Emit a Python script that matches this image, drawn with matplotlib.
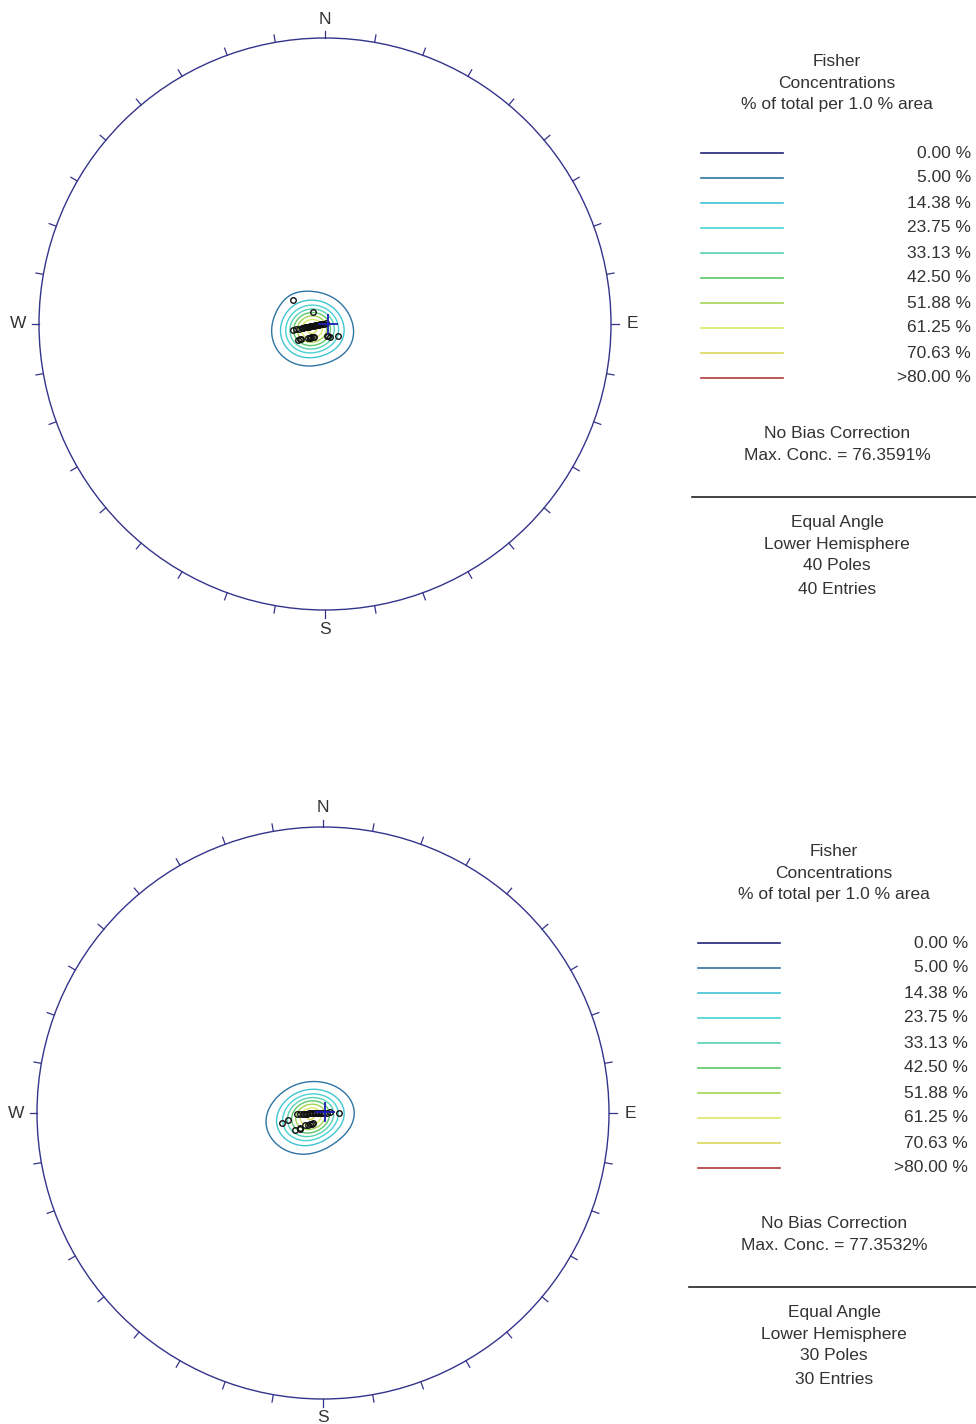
import numpy as np
import matplotlib

matplotlib.use("Agg")
import matplotlib.pyplot as plt
from matplotlib.patches import Circle

plt.rcParams["font.family"] = ["Liberation Sans", "DejaVu Sans"]

W, H = 976, 1424

# contour legend
levels = [0.00, 5.00, 14.38, 23.75, 33.13, 42.50, 51.88, 61.25, 70.63, 80.00]
level_labels = ["0.00 %", "5.00 %", "14.38 %", "23.75 %", "33.13 %", "42.50 %",
                "51.88 %", "61.25 %", "70.63 %", ">80.00 %"]
level_colors = ["#23237a", "#2f74a3", "#3fc4d2", "#48d2d2", "#55d2b4", "#5cc868",
                "#a2d452", "#dbe867", "#d9d95a", "#b23a3a"]

# poles, upper net (trend, plunge in degrees)
top_trend = [306.9, 315.0, 259.4, 259.3, 259.1, 260.1, 260.1, 260.0, 261.9, 262.2,
             262.9, 264.3, 270.0, 63.0, 239.3, 238.3, 230.5, 225.4, 220.2, 170.5,
             158.5, 131.5, 260.4, 260.8, 261.3, 262.0, 263.5, 265.7, 261.7, 261.5,
             262.4, 260.3, 228.3, 223.2, 226.0, 164.1, 238.5, 281.0, 264.3, 260.5]
top_plunge = [74.1, 83.2, 77.0, 78.2, 79.4, 80.7, 81.9, 83.1, 84.35, 85.55,
              86.8, 88.0, 89.2, 89.55, 77.4, 78.9, 81.2, 82.4, 83.2, 85.1,
              84.5, 83.0, 82.3, 83.5, 84.7, 85.95, 87.2, 88.4, 83.9, 85.15,
              86.4, 81.0, 81.7, 82.7, 81.9, 84.9, 78.3, 89.6, 87.6, 82.7]
top_mean = (90.0, 88.8)
top_max = "76.3591%"
top_count = 40

# poles, lower net
bot_trend = [256.8, 258.7, 91.0, 267.1, 267.3, 267.1, 267.6, 268.0, 267.9, 268.6,
             270.0, 273.0, 73.0, 83.0, 84.3, 238.7, 234.7, 236.3, 229.8, 223.3,
             268.0, 268.3, 269.0, 270.0, 267.7, 267.6, 226.5, 232.5, 280.0, 236.0]
bot_plunge = [73.1, 75.8, 83.5, 79.6, 80.8, 82.0, 83.2, 84.4, 85.6, 86.8,
              88.0, 89.2, 89.6, 88.4, 87.2, 76.9, 78.7, 81.35, 83.2, 84.35,
              84.8, 86.0, 87.2, 88.4, 83.6, 82.4, 83.8, 82.4, 89.6, 79.1]
bot_mean = (57.0, 89.0)
bot_max = "77.3532%"
bot_count = 30

K_FISHER = 100.0


def project(trend, plunge):
    t = np.radians(np.asarray(trend, dtype=float))
    p = np.radians(np.asarray(plunge, dtype=float))
    r = np.tan((np.pi / 2 - p) / 2)
    return r * np.sin(t), r * np.cos(t)


def to_vec(trend, plunge):
    t = np.radians(np.asarray(trend, dtype=float))
    p = np.radians(np.asarray(plunge, dtype=float))
    return np.stack([np.cos(p) * np.cos(t), np.cos(p) * np.sin(t), np.sin(p)], axis=-1)


def fisher_density(trend, plunge, X, Y, k):
    rho = np.hypot(X, Y)
    plunge_g = 90.0 - np.degrees(2 * np.arctan(rho))
    trend_g = np.degrees(np.arctan2(X, Y))
    g = to_vec(trend_g, plunge_g)
    v = to_vec(trend, plunge)
    c = np.abs(g @ v.T)
    n = len(trend)
    return (k / n * np.exp(k * (c - 1.0))).sum(axis=-1)


def draw_net(fig, center_px, trend, plunge, mean):
    cx, cy = center_px
    R = 286.0
    lim = 1.1
    half = lim * R
    ax = fig.add_axes([(cx - half) / W, (H - cy - half) / H, 2 * half / W, 2 * half / H])
    ax.set_xlim(-lim, lim)
    ax.set_ylim(-lim, lim)
    ax.set_aspect("equal")
    ax.axis("off")

    net_color = "#34348c"
    ax.add_patch(Circle((0, 0), 1.0, fill=False, ec=net_color, lw=1.0))
    tick = 7.5 / R
    for az in range(0, 360, 10):
        a = np.radians(az)
        ax.plot([np.sin(a), (1 + tick) * np.sin(a)], [np.cos(a), (1 + tick) * np.cos(a)],
                color=net_color, lw=0.9)
    for lab, az, off in [("N", 0, 19), ("E", 90, 21), ("S", 180, 19), ("W", 270, 21)]:
        a = np.radians(az)
        d = 1 + off / R
        ax.text(d * np.sin(a), d * np.cos(a), lab, ha="center", va="center",
                fontsize=12.5, color="#333333")

    g = np.linspace(-0.35, 0.35, 351)
    X, Y = np.meshgrid(g, g)
    D = fisher_density(trend, plunge, X, Y, K_FISHER)
    # the 0.00 % level has no closed line around the cluster
    ax.contour(X, Y, D, levels=levels[1:], colors=level_colors[1:], linewidths=1.0)

    px, py = project(trend, plunge)
    ax.plot(px, py, "o", ms=4.0, mfc="none", mec="#111111", mew=1.0, zorder=4)
    mx, my = project(*mean)
    ax.plot(mx, my, "+", ms=15, mec="#1c1cb4", mew=1.3, zorder=5)
    return ax


def draw_panel(ax, x0, y0, line_x, right_x, max_text, count):
    txt = dict(ha="center", va="center", fontsize=12.5, color="#333333")
    ax.text(x0, y0, "Fisher", **txt)
    ax.text(x0, y0 + 23, "Concentrations", **txt)
    ax.text(x0, y0 + 44, "% of total per 1.0 % area", **txt)
    for i, (lab, col) in enumerate(zip(level_labels, level_colors)):
        y = y0 + 92 + 25 * i
        ax.plot([line_x, line_x + 82], [y, y], color=col, lw=1.2)
        ax.text(right_x, y, lab, ha="right", va="center", fontsize=12.5, color="#333333")
    ax.text(x0, y0 + 372, "No Bias Correction", **txt)
    ax.text(x0, y0 + 395, "Max. Conc. = " + max_text, **txt)
    ax.plot([line_x - 9, W], [y0 + 436, y0 + 436], color="#222222", lw=1.2)
    ax.text(x0, y0 + 461, "Equal Angle", **txt)
    ax.text(x0, y0 + 484, "Lower Hemisphere", **txt)
    ax.text(x0, y0 + 505, f"{count} Poles", **txt)
    ax.text(x0, y0 + 528, f"{count} Entries", **txt)


fig = plt.figure(figsize=(W / 100, H / 100), dpi=100)
draw_net(fig, (325, 324), top_trend, top_plunge, top_mean)
draw_net(fig, (323, 1113), bot_trend, bot_plunge, bot_mean)

ax_txt = fig.add_axes([0, 0, 1, 1])
ax_txt.set_xlim(0, W)
ax_txt.set_ylim(H, 0)
ax_txt.axis("off")
ax_txt.patch.set_alpha(0)
draw_panel(ax_txt, 837, 61, 701, 971, top_max, top_count)
draw_panel(ax_txt, 834, 851, 698, 968, bot_max, bot_count)

fig.savefig("out.png", dpi=100)
